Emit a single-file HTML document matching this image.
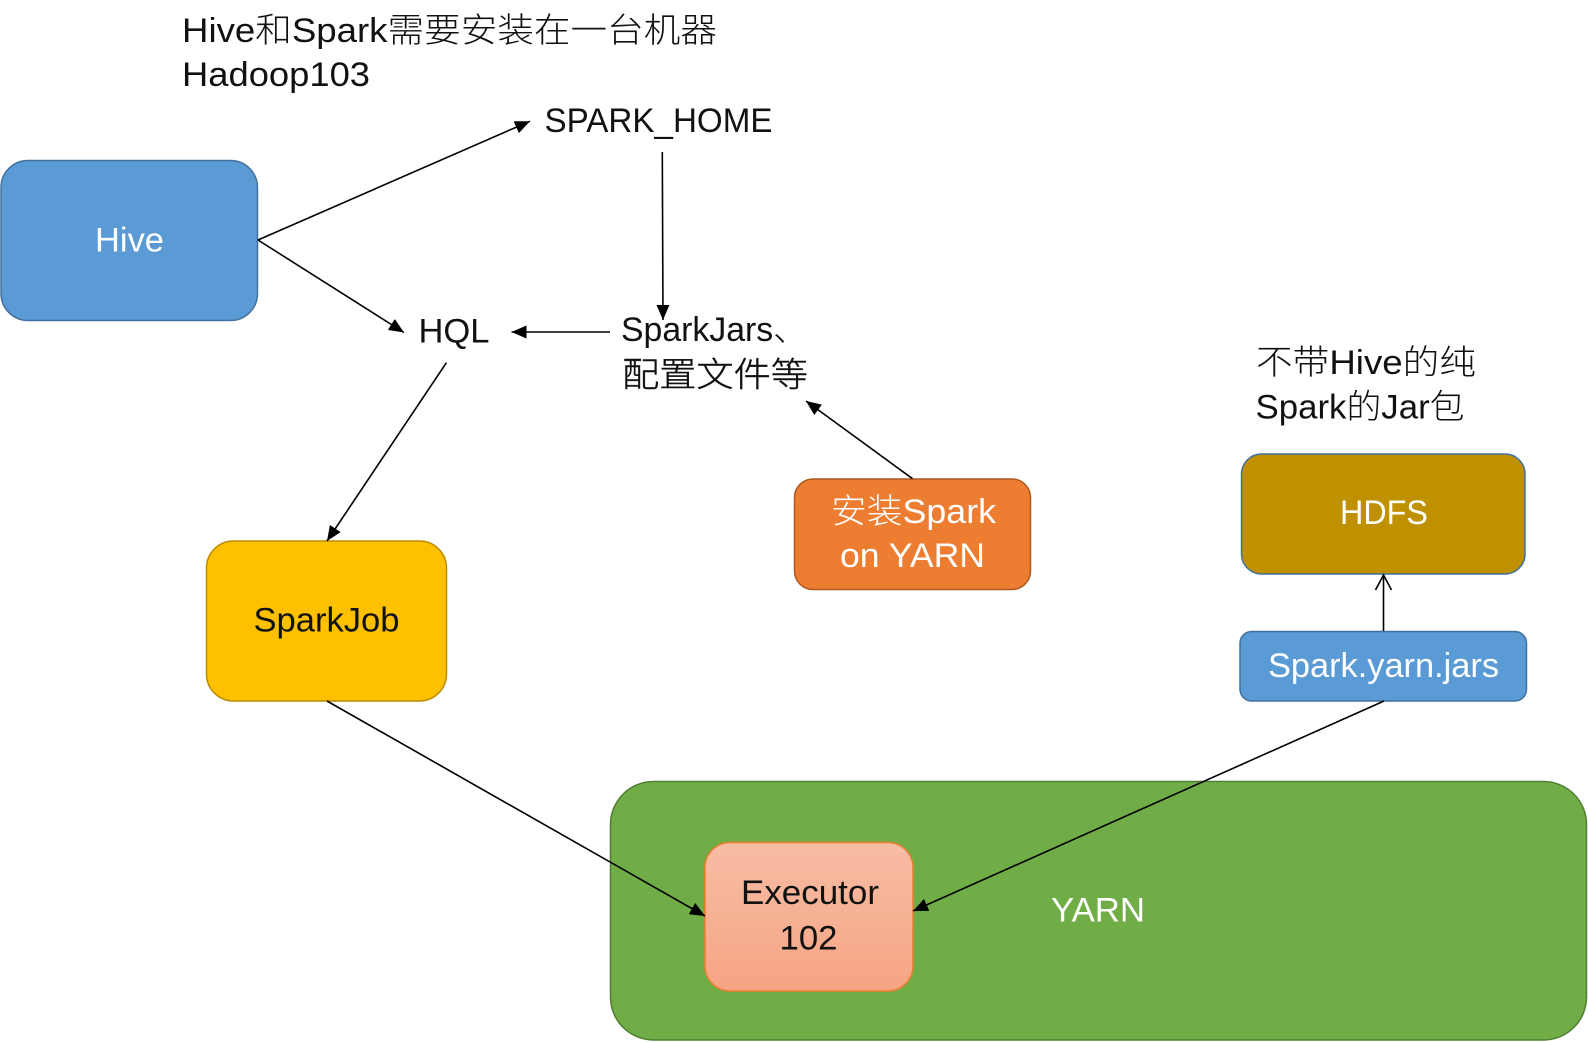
<!DOCTYPE html>
<html><head><meta charset="utf-8"><style>
html,body{margin:0;padding:0;background:#fff}
svg{display:block}
text{font-family:"Liberation Sans","Noto Sans CJK SC",sans-serif;font-size:34px;font-weight:300;fill:#111}
.w{fill:#fff}
.h{stroke:#111;stroke-width:.4px}
</style></head><body>
<svg width="1588" height="1042" viewBox="0 0 1588 1042" xmlns="http://www.w3.org/2000/svg">
<defs>
<marker id="a" markerUnits="userSpaceOnUse" markerWidth="16" markerHeight="13" refX="15" refY="6.5" orient="auto"><path d="M0 0L15 6.5L0 13Z" fill="#000"/></marker>
<linearGradient id="g" x1="0" y1="0" x2="0" y2="1"><stop offset="0" stop-color="#F7BDA5"/><stop offset="1" stop-color="#F6A483"/></linearGradient>
</defs>
<rect x="1" y="160.5" width="256.5" height="160" rx="27" fill="#5B9BD5" stroke="#41719C" stroke-width="1.5"/>
<rect x="206.5" y="541" width="240" height="160" rx="27" fill="#FFC000" stroke="#BC8C00" stroke-width="1.5"/>
<rect x="794.5" y="479" width="236" height="110.5" rx="18.5" fill="#ED7D31" stroke="#AE5A21" stroke-width="1.5"/>
<rect x="1241.5" y="454" width="283.5" height="120" rx="20" fill="#BF9000" stroke="#41719C" stroke-width="1.5"/>
<rect x="1240" y="631.5" width="286.5" height="69.5" rx="11.7" fill="#5B9BD5" stroke="#41719C" stroke-width="1.5"/>
<rect x="610.5" y="781.5" width="976" height="258.5" rx="43" fill="#70AD47" stroke="#507E32" stroke-width="1.5"/>
<rect x="705" y="842.5" width="208" height="148.5" rx="25" fill="url(#g)" stroke="#ED7D31" stroke-width="1.5"/>
<g stroke="#000" stroke-width="1.6" fill="none">
<line x1="258" y1="240" x2="530" y2="121.2" marker-end="url(#a)"/>
<line x1="258" y1="240" x2="404" y2="332.5" marker-end="url(#a)"/>
<line x1="662.3" y1="152" x2="663" y2="320" marker-end="url(#a)"/>
<line x1="610" y1="332" x2="511.5" y2="332" marker-end="url(#a)"/>
<line x1="446.4" y1="362.7" x2="327" y2="541" marker-end="url(#a)"/>
<line x1="327" y1="701" x2="705" y2="916" marker-end="url(#a)"/>
<line x1="1384" y1="701" x2="913" y2="911" marker-end="url(#a)"/>
<line x1="912.5" y1="478.7" x2="806" y2="401" marker-end="url(#a)"/>
<line x1="1383.5" y1="631" x2="1383.5" y2="575"/>
<path d="M1375.5 590L1383.5 575L1391.5 590"/>
</g>
<text x="182" y="42" textLength="535" lengthAdjust="spacingAndGlyphs">Hive和Spark需要安装在一台机器</text>
<text x="182" y="86" textLength="188" lengthAdjust="spacingAndGlyphs">Hadoop103</text>
<text x="544.5" y="132" textLength="228" lengthAdjust="spacingAndGlyphs">SPARK_HOME</text>
<text class="w" x="95" y="251.5" textLength="69" lengthAdjust="spacingAndGlyphs">Hive</text>
<text x="418.5" y="342.5" textLength="71" lengthAdjust="spacingAndGlyphs">HQL</text>
<text x="621" y="341" textLength="186" lengthAdjust="spacingAndGlyphs">SparkJars、</text>
<text class="h" x="622" y="386.5" textLength="186" lengthAdjust="spacingAndGlyphs">配置文件等</text>
<text class="w" x="831" y="523" textLength="165" lengthAdjust="spacingAndGlyphs">安装Spark</text>
<text class="w" x="840" y="567" textLength="145" lengthAdjust="spacingAndGlyphs">on YARN</text>
<text x="1256" y="374" textLength="220" lengthAdjust="spacingAndGlyphs">不带Hive的纯</text>
<text x="1255.5" y="418.5" textLength="209" lengthAdjust="spacingAndGlyphs">Spark的Jar包</text>
<text class="w" x="1340" y="524" textLength="88" lengthAdjust="spacingAndGlyphs">HDFS</text>
<text class="w" x="1268" y="677" textLength="231" lengthAdjust="spacingAndGlyphs">Spark.yarn.jars</text>
<text x="253.5" y="631.5" textLength="146" lengthAdjust="spacingAndGlyphs">SparkJob</text>
<text x="741" y="904" textLength="138" lengthAdjust="spacingAndGlyphs">Executor</text>
<text x="779.5" y="949.5" textLength="58" lengthAdjust="spacingAndGlyphs">102</text>
<text class="w" x="1051" y="921.5" textLength="94" lengthAdjust="spacingAndGlyphs">YARN</text>
</svg>
</body></html>
